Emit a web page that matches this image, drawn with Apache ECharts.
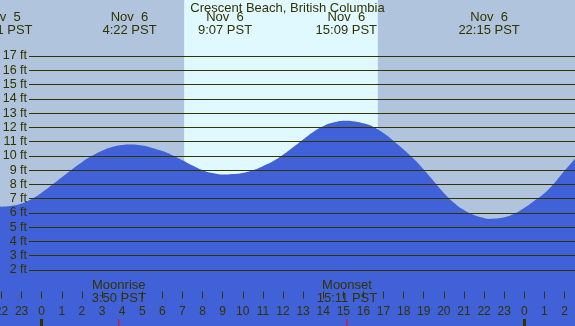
<!DOCTYPE html>
<html><head><meta charset="utf-8">
<script src="https://cdn.jsdelivr.net/npm/echarts@6/dist/echarts.min.js"></script>
<style>html,body{margin:0;padding:0;background:#b0c4de}#c{width:575px;height:326px}</style>
</head><body><div id="c"></div>
<script>
const chartTitle = 'Crescent Beach, British Columbia';
// hours relative to Nov 6 00:00 PST, heights in ft
const tideHours = [-2.1, -1.983, -1.5, -1.0, -0.5, 0, 0.5, 1, 1.5, 2, 2.5, 3, 3.5, 4, 4.367, 5, 5.5, 6, 6.5, 7, 7.5, 8, 8.5, 9.117, 9.5, 10, 10.5, 11, 11.5, 12, 12.5, 13, 13.5, 14, 14.5, 15.15, 15.5, 16, 16.5, 17, 17.5, 18, 18.5, 19, 19.5, 20, 20.5, 21, 21.5, 22, 22.25, 22.5, 23, 23.5, 24, 24.5, 25, 25.5, 26, 26.55];
const tideFeet  = [6.45, 6.44, 6.5, 6.66, 6.98, 7.42, 7.95, 8.5, 9.05, 9.56, 10.0, 10.36, 10.62, 10.76, 10.8, 10.73, 10.56, 10.34, 10.05, 9.7, 9.33, 9.0, 8.8, 8.69, 8.72, 8.8, 8.99, 9.28, 9.62, 10.07, 10.6, 11.15, 11.68, 12.08, 12.34, 12.47, 12.43, 12.28, 12.03, 11.6, 11.05, 10.45, 9.8, 9.05, 8.22, 7.4, 6.72, 6.2, 5.85, 5.64, 5.58, 5.6, 5.7, 5.95, 6.35, 6.85, 7.38, 8.1, 8.95, 9.85];
const extremeHours = [-1.983, 4.367, 9.117, 15.15, 22.25];
const extremeLabels = ['Nov  5\n22:01 PST', 'Nov  6\n4:22 PST', 'Nov  6\n9:07 PST', 'Nov  6\n15:09 PST', 'Nov  6\n22:15 PST'];
const moonHours = [3.833, 15.183];
const moonLabels = ['Moonrise\n3:50 PST', 'Moonset\n15:11 PST'];
const midnightHours = [0, 24];
const daylightHours = [7.083, 16.717];
const feetMin = 2, feetMax = 17;

const FONT = 'Liberation Sans, Arial, sans-serif';
const INK = '#333300';
function pick(list, labels, v) {
  let best = 0;
  for (let i = 1; i < list.length; i++) if (Math.abs(list[i] - v) < Math.abs(list[best] - v)) best = i;
  return labels[best];
}
const chart = echarts.init(document.getElementById('c'));
const baseX = {gridIndex: 0, type: 'value', min: -3, max: 27, z: 10, axisLine: {show: false}, splitLine: {show: false}};
chart.setOption({
  backgroundColor: '#b0c4de',
  animation: false,
  title: {text: chartTitle, left: 'center', top: 0, padding: [2, 0, 0, 0],
    textStyle: {fontFamily: FONT, fontSize: 13, fontWeight: 'normal', color: INK}},
  grid: [
    {left: -18.62, right: -9.6, top: -1, bottom: -1, outerBoundsMode: 'none', containLabel: false},
    {left: 29, right: 0, top: 56, bottom: 56, outerBoundsMode: 'none', containLabel: false}
  ],
  xAxis: [
    Object.assign({}, baseX, {position: 'bottom', interval: 1,
      axisTick: {inside: true, length: 7, lineStyle: {color: INK, width: 1}},
      axisLabel: {inside: true, margin: 9, fontFamily: FONT, fontSize: 12, color: INK,
        formatter: v => String(((Math.round(v) % 24) + 24) % 24)}}),
    Object.assign({}, baseX, {position: 'bottom',
      axisLabel: {show: false},
      axisTick: {inside: true, length: 8, customValues: midnightHours, lineStyle: {color: INK, width: 3}}}),
    Object.assign({}, baseX, {position: 'bottom',
      axisTick: {show: false},
      axisLabel: {inside: true, customValues: moonHours, margin: 22, lineHeight: 13, fontFamily: FONT, fontSize: 13, color: INK,
        formatter: v => pick(moonHours, moonLabels, v)}}),
    Object.assign({}, baseX, {position: 'top',
      axisTick: {show: false},
      axisLabel: {inside: true, customValues: extremeHours, margin: 12, lineHeight: 13, fontFamily: FONT, fontSize: 13, color: INK,
        formatter: v => pick(extremeHours, extremeLabels, v)}}),
    {gridIndex: 1, type: 'value', min: 0, max: 1, show: false}
  ],
  yAxis: [
    {gridIndex: 0, type: 'value', min: -2, max: 21, show: false},
    {gridIndex: 1, type: 'value', min: feetMin, max: feetMax, interval: 1, z: 10,
      axisLine: {show: false}, axisTick: {show: false},
      splitLine: {show: true, lineStyle: {color: INK, width: 1}},
      axisLabel: {margin: 2, fontFamily: FONT, fontSize: 12.5, color: INK, formatter: '{value} ft'}},
    {gridIndex: 0, type: 'value', min: 0, max: 41, show: false}
  ],
  series: [
    {type: 'line', xAxisIndex: 0, yAxisIndex: 0, z: 2,
      data: tideHours.map((h, i) => [h, tideFeet[i]]),
      smooth: 0.5, symbol: 'none', lineStyle: {width: 0},
      areaStyle: {color: '#4161d8', opacity: 1, origin: 'start'},
      markArea: {silent: true, itemStyle: {color: '#e0f8ff'},
        data: [[{xAxis: daylightHours[0]}, {xAxis: daylightHours[1]}]]}},
    {type: 'bar', xAxisIndex: 0, yAxisIndex: 2, z: 12, barWidth: 1, silent: true,
      itemStyle: {color: '#ff0000'},
      data: moonHours.map(h => [h, 1])},
    {type: 'line', xAxisIndex: 4, yAxisIndex: 1, data: []}
  ]
});
</script></body></html>
